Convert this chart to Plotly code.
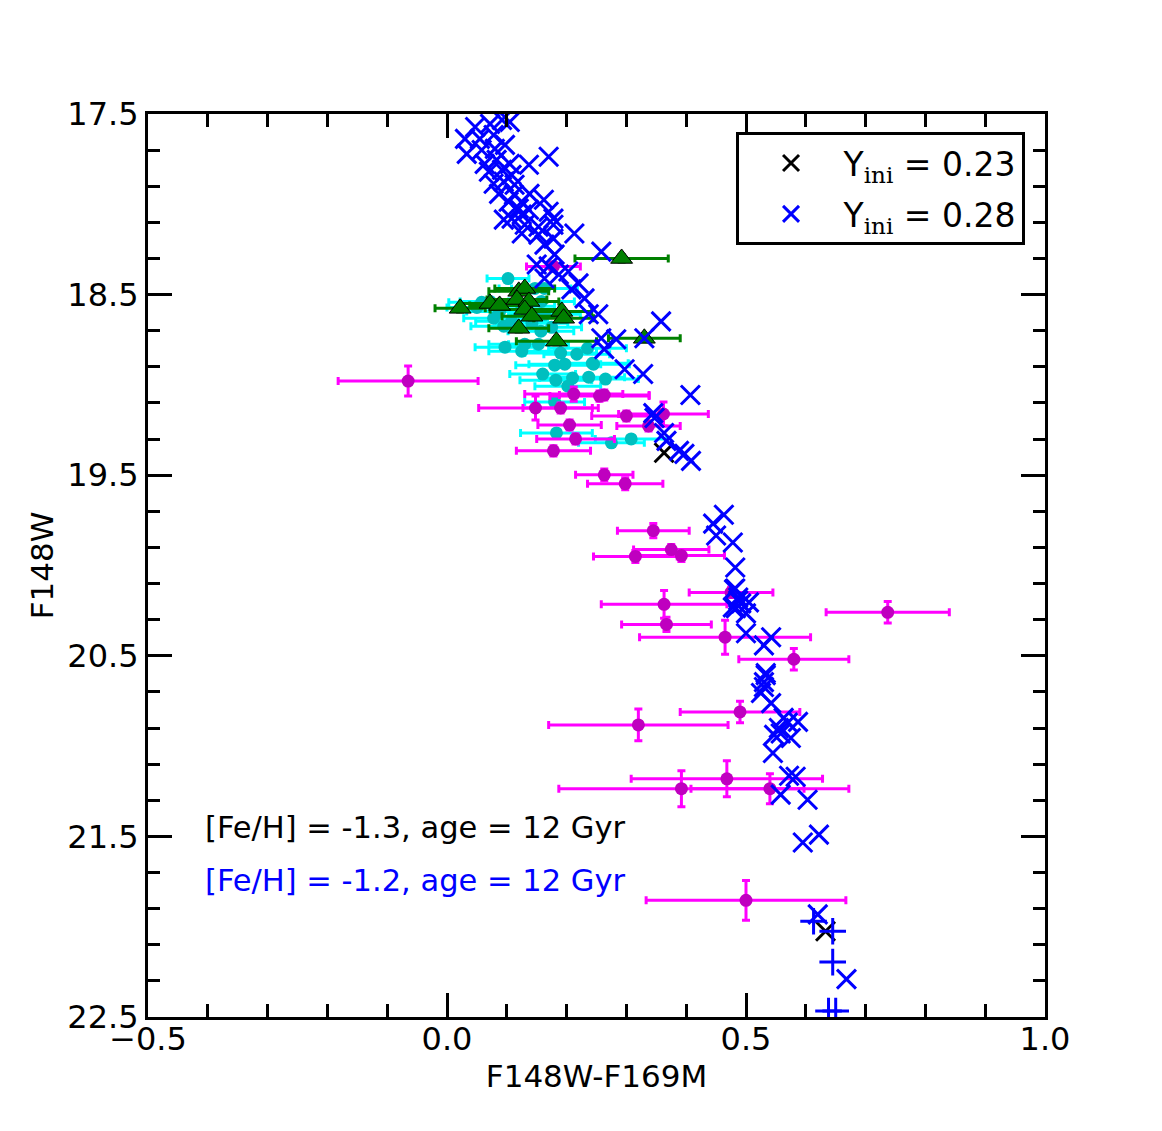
import plotly.graph_objects as go

# ---------------- data ----------------
# magenta points (x, y, xerr, yerr)
mag_x = [-0.065, 0.178, 0.212, 0.255, 0.263, 0.148, 0.190, 0.300, 0.362, 0.337, 0.205, 0.215, 0.178,
         0.263, 0.298, 0.345, 0.375, 0.315, 0.392, 0.363, 0.475, 0.737, 0.367, 0.465, 0.580, 0.490,
         0.320, 0.468, 0.392, 0.540, 0.500]
mag_y = [18.979, 18.344, 19.051, 19.062, 19.056, 19.128, 19.128, 19.172, 19.161, 19.227, 19.222, 19.299, 19.365,
         19.498, 19.547, 19.807, 19.912, 19.950, 19.945, 20.215, 20.149, 20.259, 20.326, 20.397, 20.519, 20.811,
         20.883, 21.181, 21.236, 21.236, 21.854]
mag_xerr = [0.117, 0.045, 0.082, 0.083, 0.075, 0.095, 0.063, 0.058, 0.075, 0.053, 0.053, 0.065, 0.062,
            0.048, 0.063, 0.060, 0.063, 0.070, 0.072, 0.105, 0.070, 0.103, 0.075, 0.143, 0.092, 0.100,
            0.150, 0.160, 0.205, 0.132, 0.167]
mag_yerr = [0.083, 0.020, 0.040, 0.028, 0.028, 0.066, 0.028, 0.028, 0.066, 0.028, 0.028, 0.028, 0.028,
            0.033, 0.033, 0.040, 0.028, 0.033, 0.033, 0.077, 0.028, 0.060, 0.040, 0.094, 0.060, 0.060,
            0.088, 0.100, 0.100, 0.083, 0.110]

# cyan points
cyan_x = [0.102, 0.058, 0.078, 0.095, 0.097, 0.125, 0.130, 0.153, 0.157, 0.163, 0.175, 0.147, 0.163,
          0.190, 0.217, 0.235, 0.243, 0.180, 0.197, 0.245, 0.160, 0.182, 0.210, 0.237, 0.265, 0.202,
          0.180, 0.183, 0.275, 0.308, 0.072, 0.088, 0.108, 0.125, 0.050, 0.142, 0.158]
cyan_y = [18.411, 18.543, 18.631, 18.675, 18.791, 18.813, 18.775, 18.775, 18.703, 18.609, 18.681, 18.466, 18.466,
          18.824, 18.830, 18.797, 18.880, 18.891, 18.885, 18.885, 18.940, 18.974, 18.962, 18.957, 18.968, 19.007,
          19.095, 19.266, 19.321, 19.299, 18.538, 18.593, 18.648, 18.565, 18.571, 18.659, 18.538]
cyan_xerr = [0.035, 0.055, 0.050, 0.055, 0.050, 0.055, 0.060, 0.050, 0.055, 0.060, 0.050, 0.060, 0.055,
             0.060, 0.055, 0.065, 0.060, 0.065, 0.060, 0.060, 0.055, 0.060, 0.055, 0.060, 0.055, 0.055,
             0.050, 0.060, 0.055, 0.060, 0.050, 0.055, 0.060, 0.055, 0.050, 0.060, 0.055]
cyan_yerr = [0.015] * len(cyan_x)

# green triangles
grn_x = [0.292, 0.022, 0.072, 0.088, 0.120, 0.130, 0.117, 0.137, 0.130, 0.142, 0.120, 0.192, 0.195, 0.183, 0.330]
grn_y = [18.300, 18.576, 18.549, 18.560, 18.482, 18.466, 18.527, 18.538, 18.582, 18.620, 18.687, 18.593, 18.631,
         18.758, 18.742]
grn_xerr = [0.078, 0.042, 0.050, 0.050, 0.050, 0.050, 0.050, 0.050, 0.058, 0.050, 0.050, 0.050, 0.050, 0.067, 0.060]
grn_yerr = [0.020] * len(grn_x)

# isochrone Y_ini = 0.23 (black) -- visible parts
iso23_x = [0.363, 0.633]
iso23_y = [19.376, 22.025]

# isochrone Y_ini = 0.28 (blue)
iso28_x = [0.047, 0.072, 0.092, 0.105, 0.030, 0.055, 0.078, 0.033, 0.058, 0.080, 0.097, 0.063, 0.083, 0.105,
           0.170, 0.137, 0.070, 0.092, 0.108, 0.078, 0.095, 0.113, 0.087, 0.112, 0.138, 0.162, 0.125, 0.103,
           0.120, 0.137, 0.170, 0.178, 0.095, 0.108, 0.125, 0.130, 0.153, 0.178, 0.213, 0.125, 0.153, 0.178,
           0.163, 0.180, 0.258, 0.150, 0.170, 0.203, 0.163, 0.187, 0.220, 0.208, 0.230, 0.237, 0.253, 0.358,
           0.258, 0.283, 0.330, 0.263, 0.297, 0.328, 0.407, 0.345, 0.347, 0.363, 0.367, 0.388, 0.397, 0.408,
           0.463, 0.445, 0.450, 0.478, 0.482, 0.480, 0.487, 0.505, 0.478, 0.500, 0.500, 0.542, 0.530, 0.533,
           0.530, 0.525, 0.542, 0.563, 0.587, 0.555, 0.575, 0.547, 0.545, 0.572, 0.583, 0.558, 0.603, 0.595,
           0.622, 0.620, 0.668, 0.482, 0.487, 0.483, 0.492, 0.533, 0.530, 0.570, 0.558]
iso28_y = [17.572, 17.555, 17.533, 17.544, 17.638, 17.638, 17.616, 17.721, 17.699, 17.693, 17.671, 17.776, 17.754, 17.776,
           17.737, 17.781, 17.820, 17.809, 17.837, 17.886, 17.875, 17.892, 17.942, 17.947, 17.942, 17.975, 17.986, 17.986,
           18.024, 18.030, 18.041, 18.079, 18.085, 18.079, 18.057, 18.113, 18.124, 18.113, 18.162, 18.162, 18.168, 18.190,
           18.223, 18.278, 18.262, 18.333, 18.344, 18.372, 18.411, 18.389, 18.438, 18.471, 18.521, 18.609, 18.609, 18.648,
           18.742, 18.747, 18.742, 18.802, 18.913, 18.940, 19.056, 19.156, 19.183, 19.266, 19.310, 19.365, 19.382, 19.421,
           19.719, 19.768, 19.834, 19.873, 20.011, 20.132, 20.193, 20.204, 20.232, 20.265, 20.375, 20.397, 20.442, 20.596,
           20.673, 20.706, 20.762, 20.844, 20.866, 20.900, 20.955, 20.938, 21.038, 21.164, 21.170, 21.269, 21.297, 21.534,
           21.490, 21.932, 22.290, 20.127, 20.177, 20.237, 20.210, 20.607, 20.646, 20.870, 20.930]

# isochrone Y_ini = 0.28, '+' markers near the bottom
iso28p_x = [0.613, 0.645, 0.645, 0.638, 0.650]
iso28p_y = [21.970, 22.025, 22.196, 22.467, 22.467]

legend_names = ["Y<sub><span style=\"font-family:DejaVu Serif\">ini</span></sub> = 0.23",
                "Y<sub><span style=\"font-family:DejaVu Serif\">ini</span></sub> = 0.28"]
label_texts = ["[Fe/H] = -1.3, age = 12 Gyr", "[Fe/H] = -1.2, age = 12 Gyr"]
label_x = [-0.408, -0.408]
label_y = [21.45, 21.745]
label_colors = ["black", "blue"]

x_ticks = [-0.5, 0.0, 0.5, 1.0]
y_ticks = [17.5, 18.5, 19.5, 20.5, 21.5, 22.5]

# ---------------- figure ----------------
fig = go.Figure()

fig.add_trace(go.Scatter(
    x=cyan_x, y=cyan_y, mode="markers", showlegend=False,
    marker=dict(symbol="circle", size=13, color="#00BFBF", line=dict(width=0)),
    error_x=dict(type="data", array=cyan_xerr, color="#00FFFF", thickness=3, width=4),
    error_y=dict(type="data", array=cyan_yerr, color="#00FFFF", thickness=3, width=4)))

fig.add_trace(go.Scatter(
    x=mag_x, y=mag_y, mode="markers", showlegend=False,
    marker=dict(symbol="circle", size=13, color="#BF00BF", line=dict(width=0)),
    error_x=dict(type="data", array=mag_xerr, color="#FF00FF", thickness=3, width=4),
    error_y=dict(type="data", array=mag_yerr, color="#FF00FF", thickness=3, width=4)))

fig.add_trace(go.Scatter(
    x=grn_x, y=grn_y, mode="markers", showlegend=False,
    marker=dict(symbol="triangle-up", size=19, color="#008000", line=dict(width=1, color="black")),
    error_x=dict(type="data", array=grn_xerr, color="#008000", thickness=3, width=4),
    error_y=dict(type="data", array=grn_yerr, color="#008000", thickness=3, width=4)))

fig.add_trace(go.Scatter(
    x=iso23_x, y=iso23_y, mode="markers", name=legend_names[0], legendgroup="a",
    marker=dict(symbol="x-thin-open", size=19, color="black", line=dict(width=3, color="black"))))

fig.add_trace(go.Scatter(
    x=iso28_x, y=iso28_y, mode="markers", name=legend_names[1], legendgroup="b",
    marker=dict(symbol="x-thin-open", size=19, color="blue", line=dict(width=3, color="blue"))))

fig.add_trace(go.Scatter(
    x=iso28p_x, y=iso28p_y, mode="markers", showlegend=False,
    marker=dict(symbol="cross-thin-open", size=19, color="blue", line=dict(width=3, color="blue"))))

for t, xx, yy, c in zip(label_texts, label_x, label_y, label_colors):
    fig.add_annotation(x=xx, y=yy, xref="x", yref="y", text=t, showarrow=False,
                       xanchor="left", yanchor="middle",
                       font=dict(family="DejaVu Sans", size=30.5, color=c))

axis_common = dict(
    showgrid=False, zeroline=False, showline=True, linecolor="black", linewidth=3,
    mirror="ticks", ticks="inside", ticklen=24, tickwidth=2.5, tickcolor="black",
    tickfont=dict(family="DejaVu Sans", size=32, color="black"),
)

fig.update_xaxes(**axis_common, range=[-0.5, 1.0], tickvals=x_ticks,
                 ticktext=["\u22120.5", "0.0", "0.5", "1.0"], ticklabelstandoff=-8,
                 minor=dict(dtick=0.1, tick0=-0.5, ticks="inside", ticklen=13, tickwidth=2.5, tickcolor="black"),
                 title=dict(text="F148W-F169M", font=dict(family="DejaVu Sans", size=31, color="black"), standoff=8))
fig.update_yaxes(**axis_common, range=[22.5, 17.5], tickvals=y_ticks,
                 ticktext=["17.5", "18.5", "19.5", "20.5", "21.5", "22.5"],
                 minor=dict(dtick=0.2, tick0=17.5, ticks="inside", ticklen=12, tickwidth=2.5, tickcolor="black"),
                 title=dict(text="F148W", font=dict(family="DejaVu Sans", size=31, color="black"), standoff=5))

fig.update_layout(
    width=1162, height=1131,
    margin=dict(l=140, r=125, t=106, b=122),
    paper_bgcolor="white", plot_bgcolor="white",
    font=dict(family="DejaVu Sans", color="black"),
    legend=dict(x=0.655, y=0.98, xanchor="left", yanchor="top",
                bgcolor="white", bordercolor="black", borderwidth=3,
                font=dict(family="DejaVu Sans", size=33, color="black"),
                itemwidth=95, traceorder="grouped", tracegroupgap=5),
)

fig.write_html("out.html")
